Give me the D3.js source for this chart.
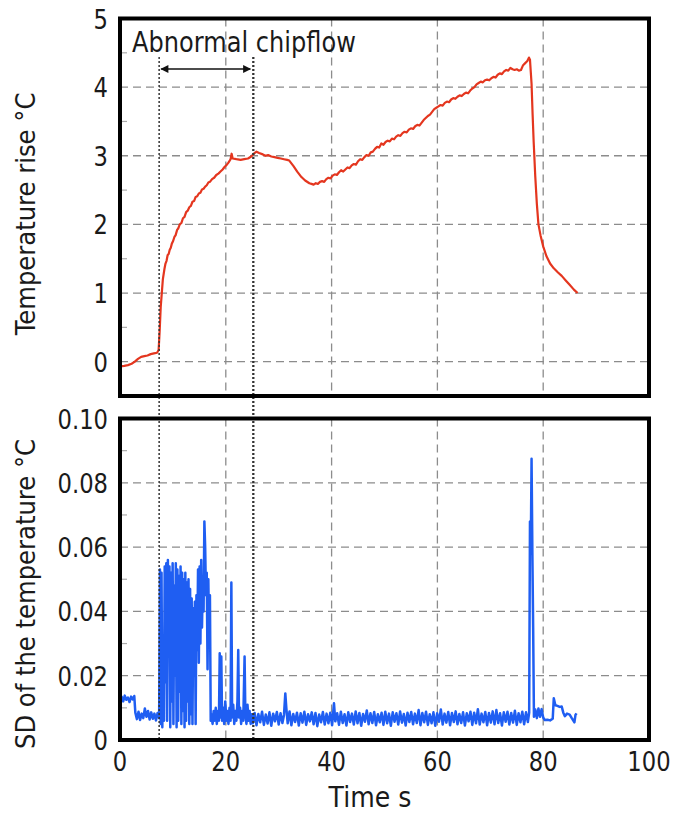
<!DOCTYPE html>
<html>
<head>
<meta charset="utf-8">
<script src="https://cdnjs.cloudflare.com/ajax/libs/d3/7.8.5/d3.min.js"></script>
<style>
  body { margin: 0; background: #fff; }
  text { font-family: "DejaVu Sans", Verdana, sans-serif; fill: #1a1a1a; }
</style>
</head>
<body>
<div id="chart-area"></div>
<script>
var w = 680;
var h = 814;

// axis ticks
var timeTicks = [0, 20, 40, 60, 80, 100];
var tempTicks = [0, 1, 2, 3, 4, 5];
var sdTicks = [0, 0.02, 0.04, 0.06, 0.08, 0.10];
var sdTickLabels = ["0", "0.02", "0.04", "0.06", "0.08", "0.10"];
var tempMinor = [0.5, 1.5, 2.5, 3.5, 4.5];
var sdMinor = [0.01, 0.03, 0.05, 0.07, 0.09];

// abnormal chipflow window (s)
var chipflowStart = 7.4;
var chipflowEnd = 25.2;

// temperature rise, [time s, degC]
var tempSeries = [
  [0.0,-0.07],[0.8,-0.06],[1.5,-0.05],[2.2,-0.03],[2.8,0.0],[3.4,0.04],[4.0,0.07],[4.6,0.08],
  [5.2,0.09],[5.8,0.11],[6.4,0.12],[7.0,0.13],[7.3,0.17],[7.5,0.45],[7.7,0.8],[7.9,1.0],
  [8.1,1.2],[8.4,1.35],[8.6,1.43],[8.8,1.47],[9.0,1.55],[9.2,1.57],[9.4,1.63],[9.6,1.66],
  [9.8,1.72],[10.0,1.75],[10.3,1.82],[10.5,1.84],[10.8,1.92],[11.0,1.94],[11.3,2.0],[11.6,2.02],
  [11.9,2.09],[12.2,2.11],[12.5,2.18],[12.8,2.2],[13.1,2.25],[13.4,2.27],[13.7,2.33],[14.0,2.34],
  [14.3,2.4],[14.6,2.41],[14.9,2.45],[15.2,2.46],[15.5,2.51],[15.8,2.52],[16.1,2.55],[16.4,2.57],
  [16.7,2.61],[17.0,2.62],[17.4,2.66],[17.8,2.68],[18.2,2.72],[18.6,2.74],[19.0,2.77],[19.4,2.8],
  [19.8,2.84],[20.2,2.87],[20.5,2.9],[20.9,2.95],[21.1,3.03],[21.3,2.96],[22.0,2.95],[22.8,2.94],
  [23.5,2.95],[24.2,2.96],[24.8,2.99],[25.3,3.03],[25.8,3.06],[26.3,3.04],[27.0,3.02],[27.5,3.0],
  [28.0,3.01],[28.6,2.99],[29.2,2.98],[29.8,2.97],[30.4,2.96],[31.0,2.95],[31.6,2.94],[32.0,2.93],
  [32.8,2.85],[33.5,2.77],[34.3,2.69],[35.0,2.64],[35.8,2.6],[36.2,2.59],
  [36.6,2.58],[37.0,2.6],[37.4,2.59],[37.8,2.62],[38.2,2.63],[38.6,2.62],[39.0,2.66],[39.4,2.68],
  [39.8,2.67],[40.2,2.71],[40.6,2.73],[41.0,2.72],[41.4,2.76],[41.8,2.79],[42.2,2.77],[42.6,2.8],
  [43.0,2.83],[43.4,2.82],[43.8,2.86],[44.2,2.88],[44.6,2.87],[45.0,2.92],[45.4,2.95],[45.8,2.94],
  [46.2,2.98],[46.6,3.01],[47.0,3.0],[47.4,3.05],[47.8,3.06],[48.2,3.1],[48.6,3.13],[49.0,3.12],
  [49.4,3.18],[49.8,3.16],[50.2,3.2],[50.6,3.22],[51.0,3.21],[51.4,3.25],[51.8,3.24],[52.2,3.28],
  [52.6,3.3],[53.0,3.29],[53.4,3.33],[53.8,3.35],[54.2,3.34],[54.6,3.38],[55.0,3.4],[55.4,3.39],
  [55.8,3.43],[56.2,3.45],[56.6,3.44],[57.0,3.48],[57.4,3.52],[57.8,3.55],[58.2,3.58],[58.6,3.6],
  [59.0,3.64],[59.4,3.68],[59.8,3.7],[60.2,3.72],[60.6,3.74],[61.0,3.73],[61.4,3.77],[61.8,3.79],
  [62.2,3.78],[62.6,3.82],[63.0,3.84],[63.4,3.83],[63.8,3.86],[64.2,3.88],[64.6,3.87],[65.0,3.9],
  [65.4,3.92],[65.8,3.91],[66.2,3.95],[66.6,3.98],[67.0,4.0],[67.4,4.04],[67.8,4.06],[68.2,4.08],
  [68.6,4.07],[69.0,4.1],[69.4,4.11],[69.8,4.1],[70.2,4.13],[70.6,4.15],[71.0,4.14],[71.4,4.18],
  [71.8,4.2],[72.2,4.19],[72.6,4.23],[73.0,4.25],[73.4,4.24],[73.8,4.28],[74.2,4.26],[74.6,4.25],
  [75.0,4.26],[75.4,4.24],[75.8,4.25],[76.2,4.32],[76.6,4.35],[77.0,4.38],[77.3,4.43],[77.5,4.4],
  [77.8,4.05],[78.0,3.6],[78.2,3.2],[78.5,2.7],[78.8,2.3],[79.1,2.0],[79.5,1.84],[80.0,1.68],
  [80.6,1.54],[81.3,1.43],[82.0,1.36],[82.8,1.3],[83.5,1.25],[84.3,1.18],[85.0,1.12],[85.8,1.05],
  [86.5,1.0]
];

// standard deviation of the temperature, [time s, degC]
var sdSeries = [
  [0,.013],[0.3,.0135],[0.6,.012],[0.9,.0138],[1.2,.0125],[1.5,.0132],[1.8,.0118],[2.1,.0135],
  [2.4,.0126],[2.7,.0137],[2.9,.0085],[3.2,.0065],[3.5,.0088],[3.8,.0062],[4.1,.0082],[4.4,.0068],
  [4.7,.0098],[5.0,.0072],[5.3,.009],[5.6,.0064],[5.9,.0086],[6.2,.0066],[6.5,.0082],[6.8,.0061],
  [7.1,.0084],[7.4,.0068],
  [7.55,.053],[7.7,.005],[7.85,.052],[8.0,.004],[8.15,.03],[8.3,.006],[8.45,.054],[8.6,.018],
  [8.75,.055],[8.9,.006],[9.05,.056],[9.2,.029],[9.35,.054],[9.5,.004],[9.65,.052],[9.8,.012],
  [9.95,.055],[10.1,.005],[10.25,.048],[10.4,.02],[10.55,.055],[10.7,.004],[10.85,.053],[11.0,.006],
  [11.15,.051],[11.3,.015],[11.45,.054],[11.6,.005],[11.75,.052],[11.9,.009],[12.05,.05],[12.2,.004],
  [12.35,.052],[12.5,.006],[12.65,.049],[12.8,.012],[12.95,.05],[13.1,.005],[13.25,.047],[13.4,.008],
  [13.55,.044],[13.7,.005],[13.85,.041],[14.0,.02],[14.15,.043],[14.3,.005],[14.45,.045],[14.6,.028],
  [14.75,.053],[14.9,.024],[15.05,.054],[15.2,.03],[15.35,.056],[15.5,.035],[15.65,.05],[15.8,.04],
  [15.95,.068],[16.1,.06],[16.25,.045],[16.4,.052],[16.55,.022],[16.7,.05],[16.85,.03],[17.0,.045],
  [17.15,.006],
  [17.3,.008],[17.5,.005],[17.7,.009],[17.9,.006],[18.1,.01],[18.3,.005],[18.5,.009],[18.7,.006],
  [18.85,.027],[19.0,.007],[19.15,.026],[19.3,.006],[19.5,.01],[19.7,.005],[19.9,.012],[20.1,.006],
  [20.3,.009],[20.5,.005],[20.7,.01],[20.9,.006],[21.05,.049],[21.2,.007],[21.4,.011],[21.6,.005],
  [21.8,.009],[22.0,.006],[22.2,.012],[22.35,.028],[22.5,.007],[22.7,.01],[22.9,.005],[23.1,.009],
  [23.3,.006],[23.55,.026],[23.7,.008],[23.9,.005],[24.1,.011],[24.3,.006],[24.5,.009],[24.7,.005],
  [24.9,.008],
  [25.1,.0052],[25.45,.0084],[25.8,.0046],[26.15,.0081],[26.5,.0055],[26.85,.0088],[27.2,.0047],[27.55,.0079],
  [27.9,.0051],[28.25,.0086],[28.6,.0044],[28.95,.0082],[29.3,.0058],[29.65,.0087],[30.0,.0048],[30.35,.0083],
  [30.7,.0053],[31.0,.0078],[31.25,.0145],[31.45,.0098],[31.7,.0052],[32.05,.0089],[32.4,.0046],[32.75,.0081],
  [33.1,.0056],[33.45,.0085],[33.8,.0045],[34.15,.0083],[34.5,.0054],[34.85,.0088],[35.2,.0047],[35.55,.008],
  [35.9,.0058],[36.25,.0086],[36.6,.0049],[36.95,.0084],[37.3,.0043],[37.65,.0079],[38.0,.0055],[38.35,.0087],
  [38.7,.0048],[39.05,.0082],[39.4,.0052],[39.75,.0085],[40.1,.0046],[40.45,.0114],[40.7,.0058],[41.05,.0083],
  [41.4,.0047],[41.75,.0088],[42.1,.0053],[42.45,.008],[42.8,.0045],[43.15,.0086],[43.5,.0056],[43.85,.0082],
  [44.2,.0048],[44.55,.0089],[44.9,.0052],[45.25,.0084],[45.6,.0044],[45.95,.0081],[46.3,.0057],[46.65,.0092],
  [47.0,.0049],[47.35,.0083],[47.7,.0053],[48.05,.0087],[48.4,.0046],[48.75,.008],[49.1,.0055],[49.45,.0085],
  [49.8,.0047],[50.15,.0088],[50.5,.0052],[50.85,.0082],[51.2,.0044],[51.55,.0086],[51.9,.0057],[52.25,.0083],
  [52.6,.0048],[52.95,.0089],[53.3,.0054],[53.65,.0081],[54.0,.0045],[54.35,.0085],[54.7,.0056],[55.05,.0087],
  [55.4,.0049],[55.75,.0082],[56.1,.0053],[56.45,.0093],[56.8,.0046],[57.15,.0084],[57.5,.0055],[57.85,.0088],
  [58.2,.0047],[58.55,.008],[58.9,.0052],[59.25,.0086],[59.6,.0044],[59.95,.0083],[60.3,.0057],[60.65,.0095],
  [61.0,.0048],[61.35,.0082],[61.7,.0054],[62.05,.0087],[62.4,.0046],[62.75,.0084],[63.1,.0056],[63.45,.0089],
  [63.8,.0049],[64.15,.0081],[64.5,.0053],[64.85,.0086],[65.2,.0045],[65.55,.0083],[65.9,.0058],[66.25,.0088],
  [66.6,.0047],[66.95,.0085],[67.3,.0052],[67.65,.0096],[68.0,.0048],[68.35,.0082],[68.7,.0055],[69.05,.0087],
  [69.4,.0046],[69.75,.0084],[70.1,.0054],[70.45,.0089],[70.8,.0049],[71.15,.0093],[71.5,.0053],[71.85,.0083],
  [72.2,.0045],[72.55,.0086],[72.9,.0057],[73.25,.0088],[73.6,.0048],[73.95,.0084],[74.3,.0054],[74.65,.0091],
  [75.0,.0047],[75.35,.0083],[75.7,.0055],[76.05,.0088],[76.4,.0049],[76.75,.0086],[77.1,.0056],
  [77.35,.0085],[77.5,.068],[77.65,.058],[77.8,.0875],[77.95,.0585],[78.1,.035],[78.25,.0072],[78.5,.0095],
  [78.8,.0068],[79.1,.0098],[79.4,.0072],[79.7,.0096],[80.0,.007],[80.3,.0062],[80.8,.0063],[81.3,.0061],
  [81.8,.0066],[82.0,.013],[82.3,.0108],[82.7,.0106],[83.1,.0103],[83.5,.0104],[83.8,.0085],[84.1,.0074],
  [84.5,.0082],[85.0,.0079],[85.4,.0068],[85.9,.0055],[86.1,.0078],[86.3,.0083]
];

var svg = d3.select('#chart-area').append('svg')
    .attr('width', w)
    .attr('height', h);

var x = d3.scaleLinear().domain([0, 100]).range([120, 649]);
var yTemp = d3.scaleLinear().domain([-0.5, 5]).range([396, 18.5]);
var ySd = d3.scaleLinear().domain([0, 0.1]).range([740, 418.5]);

// text squeezed sideways a bit, the original font is narrow
function label(parent, tx, ty, str, size, sx, anchor, rot) {
  return parent.append('text')
      .attr('transform', 'translate(' + tx + ',' + ty + ') rotate(' + (rot || 0) + ') scale(' + sx + ',1)')
      .attr('text-anchor', anchor)
      .attr('font-size', size)
      .text(str);
}

function panel(y, gridVals, minor, id) {
  var g = svg.append('g');
  var y0 = y.range()[0], y1 = y.range()[1];
  g.append('clipPath').attr('id', id)
    .append('rect').attr('x', x(0)).attr('y', y1).attr('width', x(100) - x(0)).attr('height', y0 - y1);
  g.selectAll('.hgrid').data(gridVals).enter().append('line')
      .attr('x1', x(0)).attr('x2', x(100))
      .attr('y1', d => y(d)).attr('y2', d => y(d))
      .attr('stroke', '#8c8c8c').attr('stroke-width', 1.3).attr('stroke-dasharray', '8,5');
  g.selectAll('.vgrid').data([20, 40, 60, 80]).enter().append('line')
      .attr('x1', d => x(d)).attr('x2', d => x(d))
      .attr('y1', y1).attr('y2', y0)
      .attr('stroke', '#8c8c8c').attr('stroke-width', 1.3).attr('stroke-dasharray', '8,5');
  g.selectAll('.minor').data(minor).enter().append('line')
      .attr('x1', x(0)).attr('x2', x(0) + 7)
      .attr('y1', d => y(d)).attr('y2', d => y(d))
      .attr('stroke', '#aaa').attr('stroke-width', 1.2);
  return g;
}

var topPanel = panel(yTemp, [0, 1, 2, 3, 4], tempMinor, 'clipTop');
var botPanel = panel(ySd, [0.02, 0.04, 0.06, 0.08], sdMinor, 'clipBot');

// chipflow window lines
[[chipflowStart, 1.5], [chipflowEnd, 2.3]].forEach(function(d) {
  svg.append('line')
    .attr('x1', x(d[0])).attr('x2', x(d[0]))
    .attr('y1', 57).attr('y2', ySd(0))
    .attr('stroke', '#333').attr('stroke-width', d[1]).attr('stroke-dasharray', '2,2');
});

var line = d3.line().x(d => x(d[0]));

topPanel.append('path')
    .attr('clip-path', 'url(#clipTop)')
    .attr('d', line.y(d => yTemp(d[1]))(tempSeries))
    .attr('fill', 'none').attr('stroke', '#e4361f').attr('stroke-width', 2.2)
    .attr('stroke-linejoin', 'round');

botPanel.append('path')
    .attr('clip-path', 'url(#clipBot)')
    .attr('d', line.y(d => ySd(d[1]))(sdSeries))
    .attr('fill', 'none').attr('stroke', '#1f5ef2').attr('stroke-width', 2.5)
    .attr('stroke-linejoin', 'round');

// frames
[yTemp, ySd].forEach(function(y) {
  svg.append('rect')
    .attr('x', x(0)).attr('y', y.range()[1])
    .attr('width', x(100) - x(0)).attr('height', y.range()[0] - y.range()[1])
    .attr('fill', 'none').attr('stroke', '#000').attr('stroke-width', 4);
});

// arrow
var defs = svg.append('defs');
['arrEnd', 'arrStart'].forEach(function(id, i) {
  defs.append('marker').attr('id', id)
    .attr('viewBox', '0 0 10 10').attr('refX', 9).attr('refY', 5)
    .attr('markerWidth', 10).attr('markerHeight', 8)
    .attr('markerUnits', 'userSpaceOnUse')
    .attr('orient', i === 0 ? 'auto' : 'auto-start-reverse')
    .append('path').attr('d', 'M0,0 L10,5 L0,10 z').attr('fill', '#111');
});
svg.append('line')
    .attr('x1', x(chipflowStart) + 2).attr('x2', x(chipflowEnd) - 3)
    .attr('y1', 69).attr('y2', 69)
    .attr('stroke', '#111').attr('stroke-width', 1.6)
    .attr('marker-start', 'url(#arrStart)').attr('marker-end', 'url(#arrEnd)');

label(svg, 132, 52, 'Abnormal chipflow', 28, 0.86, 'start');

// tick labels
tempTicks.forEach(function(d) {
  label(svg, 108, yTemp(d) + 10, d, 27, 0.84, 'end');
});
sdTicks.forEach(function(d, i) {
  label(svg, 108, ySd(d) + 10, sdTickLabels[i], 27, 0.84, 'end');
});
timeTicks.forEach(function(d) {
  label(svg, x(d), 771, d, 27, 0.84, 'middle');
});

// axis titles
label(svg, 370, 807, 'Time s', 28, 0.9, 'middle');
label(svg, 35, 214, 'Temperature rise °C', 27, 0.9, 'middle', -90);
label(svg, 35, 594, 'SD of the temperature °C', 27, 0.9, 'middle', -90);
</script>
</body>
</html>
